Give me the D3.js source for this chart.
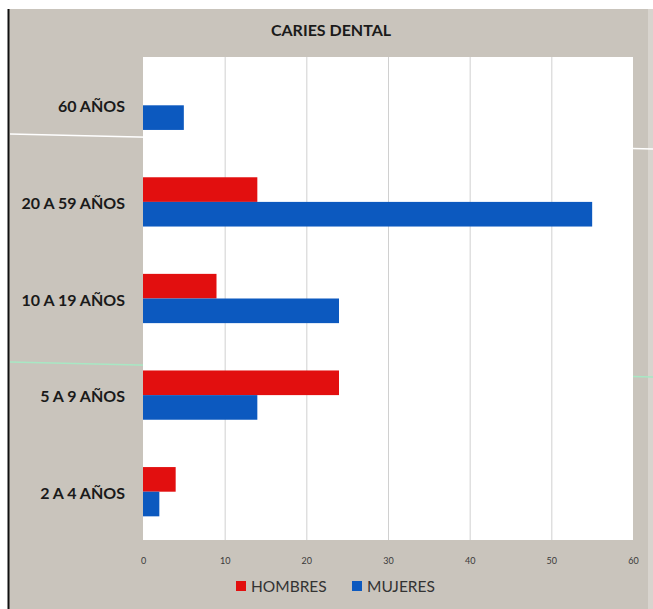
<!DOCTYPE html>
<html>
<head>
<meta charset="utf-8">
<script src="https://cdn.jsdelivr.net/npm/d3@7"></script>
<style>
  body { margin: 0; background: #fff; }
  svg { display: block; }
</style>
</head>
<body>
<script>
// data
var categories = ["60 AÑOS", "20 A 59 AÑOS", "10 A 19 AÑOS", "5 A 9 AÑOS", "2 A 4 AÑOS"];
var seriesNames = ["HOMBRES", "MUJERES"];
var hombres = [0, 14, 9, 24, 4];
var mujeres = [5, 55, 24, 14, 2];
var xTicks = [0, 10, 20, 30, 40, 50, 60];
var colors = ["#e20f0f", "#0c59bf"];

var W = 653, H = 609;
var plot = {left: 143, right: 633, top: 57, bottom: 540};

var svg = d3.select("body").append("svg")
    .attr("width", W)
    .attr("height", H);

// scanned paper background
svg.append("rect").attr("width", W).attr("height", H).attr("fill", "#ffffff");
svg.append("rect")
    .attr("x", 9).attr("y", 9)
    .attr("width", W - 9).attr("height", H - 9)
    .attr("fill", "#c9c4bc");
svg.append("rect")
    .attr("x", 648).attr("y", 9)
    .attr("width", 5).attr("height", H - 9)
    .attr("fill", "#d8d4ce");
svg.append("line")
    .attr("x1", 8.5).attr("x2", 8.5)
    .attr("y1", 9).attr("y2", H)
    .attr("stroke", "#111").attr("stroke-width", 2);

// scan artifacts (thin streaks crossing the page)
svg.append("line")
    .attr("x1", 10).attr("y1", 134).attr("x2", W).attr("y2", 149)
    .attr("stroke", "#ffffff").attr("stroke-width", 1.5);
svg.append("line")
    .attr("x1", 10).attr("y1", 362).attr("x2", W).attr("y2", 377)
    .attr("stroke", "#a8e8c4").attr("stroke-width", 1.5);

// title
svg.append("text")
    .attr("x", 331)
    .attr("y", 36)
    .attr("text-anchor", "middle")
    .attr("font-family", "Lato, sans-serif")
    .attr("font-weight", 700)
    .attr("font-size", "16px")
    .attr("fill", "#1a1a1a")
    .text("CARIES DENTAL");

// plot area
svg.append("rect")
    .attr("x", plot.left).attr("y", plot.top)
    .attr("width", plot.right - plot.left)
    .attr("height", plot.bottom - plot.top)
    .attr("fill", "#ffffff");

var x = d3.scaleLinear()
    .domain([0, 60])
    .range([plot.left, plot.right]);

var y = d3.scaleBand()
    .domain(categories)
    .range([plot.top, plot.bottom])
    .paddingInner(0.49)
    .paddingOuter(0.245);

var ySub = d3.scaleBand()
    .domain(seriesNames)
    .range([0, y.bandwidth()]);

// gridlines
svg.append("g").selectAll("line")
    .data(xTicks.filter(function(d) { return d > 0 && d < 60; }))
    .enter().append("line")
    .attr("x1", function(d) { return x(d) + 0.5; })
    .attr("x2", function(d) { return x(d) + 0.5; })
    .attr("y1", plot.top)
    .attr("y2", plot.bottom)
    .attr("stroke", "#d0d0d0")
    .attr("stroke-width", 1);

// x axis tick labels
var xAxis = svg.append("g")
    .attr("transform", "translate(0," + (plot.bottom + 18) + ")")
    .call(d3.axisBottom(x).tickValues(xTicks).tickSize(0).tickPadding(0));
xAxis.select(".domain").remove();
xAxis.selectAll("text")
    .attr("font-family", "Lato, sans-serif")
    .attr("font-size", "9px")
    .attr("fill", "#3a3a3a");

// category labels
var yAxis = svg.append("g")
    .attr("transform", "translate(" + (plot.left - 18) + ",2)")
    .call(d3.axisLeft(y).tickSize(0).tickPadding(0));
yAxis.select(".domain").remove();
yAxis.selectAll("text")
    .attr("font-family", "Lato, sans-serif")
    .attr("font-weight", 700)
    .attr("font-size", "16px")
    .attr("fill", "#1a1a1a");

// bars
var rows = categories.map(function(c, i) {
  return [
    {cat: c, series: seriesNames[0], value: hombres[i]},
    {cat: c, series: seriesNames[1], value: mujeres[i]}
  ];
});
var color = d3.scaleOrdinal().domain(seriesNames).range(colors);

svg.append("g").selectAll("g")
    .data(rows)
    .enter().append("g")
    .attr("transform", function(d) { return "translate(0," + y(d[0].cat) + ")"; })
  .selectAll("rect")
    .data(function(d) { return d; })
    .enter().append("rect")
    .attr("x", x(0))
    .attr("y", function(d) { return ySub(d.series); })
    .attr("width", function(d) { return x(d.value) - x(0); })
    .attr("height", ySub.bandwidth())
    .attr("fill", function(d) { return color(d.series); });

// legend
var legend = svg.append("g")
    .attr("font-family", "Lato, sans-serif")
    .attr("font-size", "15.5px")
    .attr("fill", "#333");
var legendX = [236, 352];
seriesNames.forEach(function(s, i) {
  legend.append("rect")
      .attr("x", legendX[i]).attr("y", 581)
      .attr("width", 10).attr("height", 10)
      .attr("fill", color(s));
  legend.append("text")
      .attr("x", legendX[i] + 15)
      .attr("y", 592)
      .text(s);
});
</script>
</body>
</html>
